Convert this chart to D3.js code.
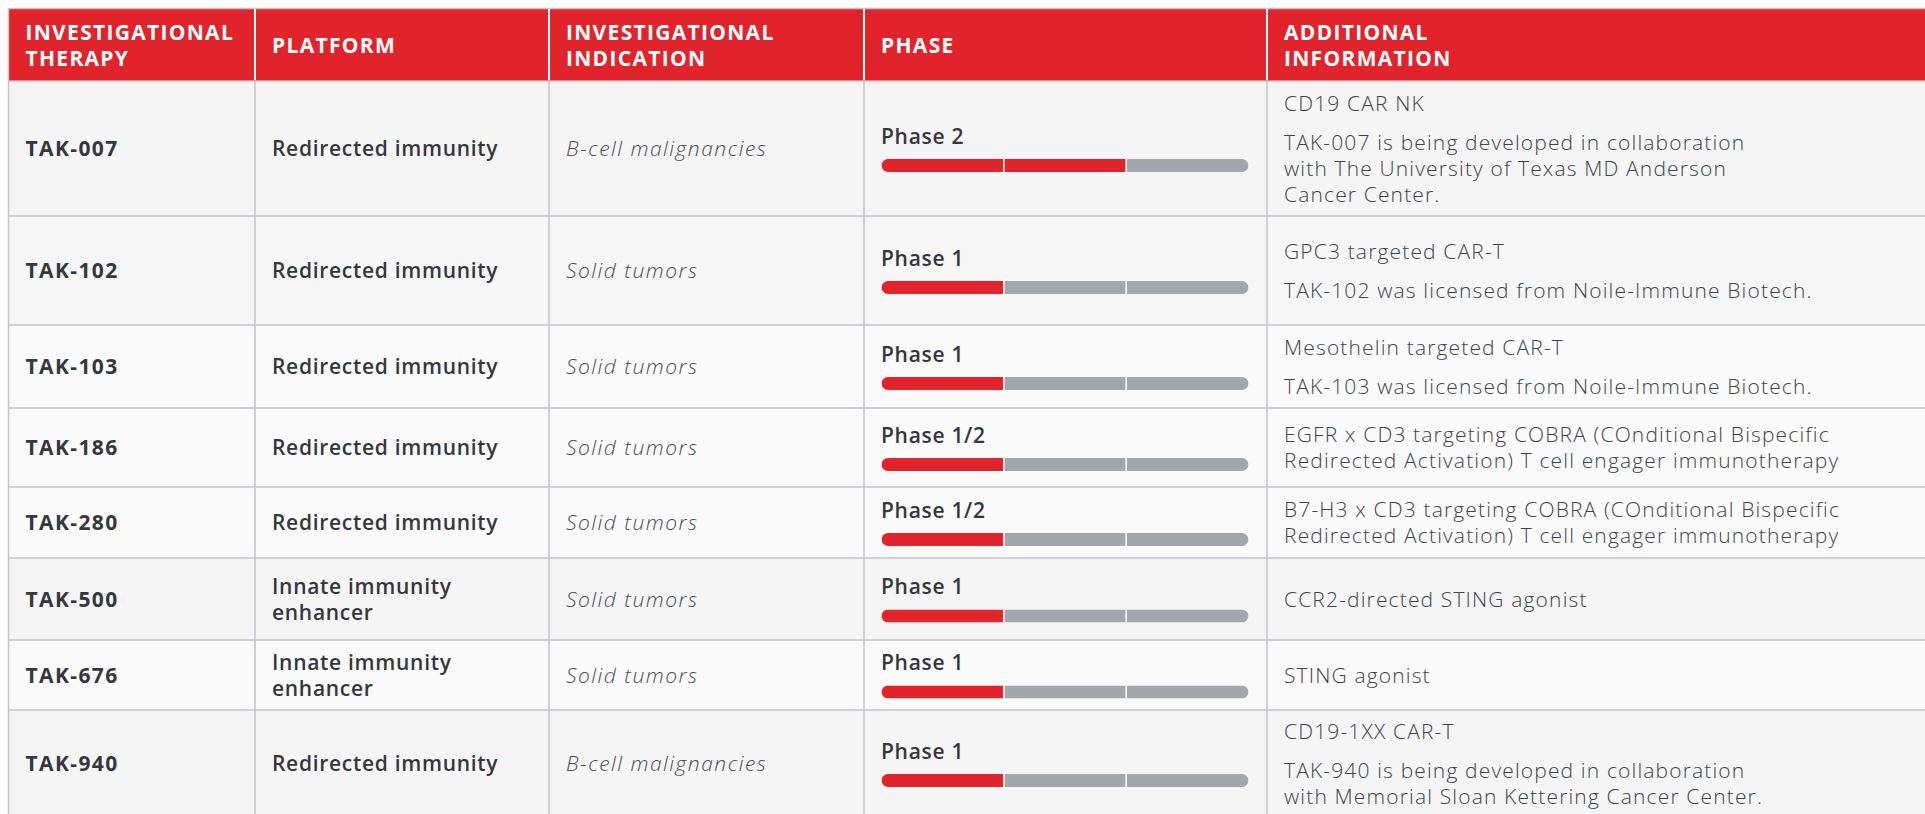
<!DOCTYPE html>
<meta charset="utf-8">
<style>
  body {
    margin: 0;
    background: #fff;
  }
  svg { display: block; }

  text { font-family: "Open Sans", "Noto Sans", sans-serif; }

  .head text {
    fill: #fff;
    font-weight: 700;
    font-size: 21px;
    letter-spacing: 1.3px;
  }
  .therapy {
    fill: #35373e;
    font-weight: 700;
    font-size: 21px;
    letter-spacing: 1.4px;
  }
  .platform, .phase-label {
    fill: #35373e;
    font-weight: 600;
    font-size: 21px;
    letter-spacing: 0.7px;
  }
  .indication {
    fill: #4a4c52;
    font-weight: 300;
    font-style: italic;
    font-size: 21px;
    letter-spacing: 1.5px;
  }
  .info {
    fill: #404248;
    font-weight: 300;
    font-size: 21px;
    letter-spacing: 1.15px;
  }
</style>
<body>
<script src="https://cdn.jsdelivr.net/npm/d3@7"></script>
<script>

// ---- table content ----
var columnTitles = [
    ["INVESTIGATIONAL", "THERAPY"],
    ["PLATFORM"],
    ["INVESTIGATIONAL", "INDICATION"],
    ["PHASE"],
    ["ADDITIONAL", "INFORMATION"]
];

var therapies = ["TAK-007", "TAK-102", "TAK-103", "TAK-186", "TAK-280", "TAK-500", "TAK-676", "TAK-940"];

var platforms = [
    ["Redirected immunity"],
    ["Redirected immunity"],
    ["Redirected immunity"],
    ["Redirected immunity"],
    ["Redirected immunity"],
    ["Innate immunity", "enhancer"],
    ["Innate immunity", "enhancer"],
    ["Redirected immunity"]
];

var indications = ["B-cell malignancies", "Solid tumors", "Solid tumors", "Solid tumors",
                   "Solid tumors", "Solid tumors", "Solid tumors", "B-cell malignancies"];

var phaseLabels = ["Phase 2", "Phase 1", "Phase 1", "Phase 1/2", "Phase 1/2", "Phase 1", "Phase 1", "Phase 1"];
var phaseReached = [2, 1, 1, 1, 1, 1, 1, 1];
var phaseSteps = 3;

// paragraphs, each one a list of lines
var additionalInfo = [
    [["CD19 CAR NK"],
     ["TAK-007 is being developed in collaboration", "with The University of Texas MD Anderson", "Cancer Center."]],
    [["GPC3 targeted CAR-T"],
     ["TAK-102 was licensed from Noile-Immune Biotech."]],
    [["Mesothelin targeted CAR-T"],
     ["TAK-103 was licensed from Noile-Immune Biotech."]],
    [["EGFR x CD3 targeting COBRA (COnditional Bispecific", "Redirected Activation) T cell engager immunotherapy"]],
    [["B7-H3 x CD3 targeting COBRA (COnditional Bispecific", "Redirected Activation) T cell engager immunotherapy"]],
    [["CCR2-directed STING agonist"]],
    [["STING agonist"]],
    [["CD19-1XX CAR-T"],
     ["TAK-940 is being developed in collaboration", "with Memorial Sloan Kettering Cancer Center."]]
];

// ---- layout ----
var width = 1925, height = 814;
var tableTop = 9, headBottom = 81;
var columnEdges = [8.5, 255, 549, 864, 1267, width];
var rowHeights = [135, 109, 83, 79, 71, 82, 70, 107];
var rowFills = ["#f5f5f5", "#f6f6f6", "#fafafa", "#fafafa", "#fafafa", "#f5f5f5", "#fafafa", "#f5f5f5"];
var padLeft = 17;
var lineStep = 26, paraStep = 39;
var barWidth = 367, barHeight = 13;

var red = "#e1232b", grey = "#a3a6ae", rule = "#c3c5cb";

var rows = therapies.map(function(t, i) {
    return {
        therapy: t,
        platform: platforms[i],
        indication: indications[i],
        phase: phaseLabels[i],
        reached: phaseReached[i],
        info: additionalInfo[i],
        index: i
    };
});

var rowTops = [headBottom];
rowHeights.forEach(function(h, i) { rowTops.push(rowTops[i] + h); });

var colX = d3.scaleOrdinal().domain(d3.range(5)).range(columnEdges.slice(0, 5));
var rowY = d3.scaleOrdinal().domain(d3.range(rows.length)).range(rowTops.slice(0, rows.length));
var barX = d3.scaleLinear().domain([0, phaseSteps]).range([0, barWidth]);

function rowMid(i) { return rowY(i) + rowHeights[i] / 2; }

var svg = d3.select("body").append("svg")
    .attr("width", width).attr("height", height);

svg.append("defs").append("clipPath")
    .attr("id", "barClip")
  .append("rect")
    .attr("width", barWidth).attr("height", barHeight)
    .attr("rx", barHeight / 2).attr("ry", barHeight / 2);

// row backgrounds
svg.append("g").selectAll("rect")
    .data(rows).enter().append("rect")
    .attr("x", columnEdges[0]).attr("y", function(d) { return rowY(d.index); })
    .attr("width", width - columnEdges[0])
    .attr("height", function(d) { return rowHeights[d.index]; })
    .attr("fill", function(d) { return rowFills[d.index]; });

// header band
var head = svg.append("g").attr("class", "head");
head.append("rect")
    .attr("x", columnEdges[0]).attr("y", tableTop)
    .attr("width", width - columnEdges[0]).attr("height", headBottom - tableTop)
    .attr("fill", red);

// grid
var grid = svg.append("g").attr("fill", "none");
grid.append("line")
    .attr("x1", columnEdges[0]).attr("x2", width)
    .attr("y1", tableTop - 0.5).attr("y2", tableTop - 0.5)
    .attr("stroke", rule).attr("stroke-width", 1.5);
grid.selectAll(".hline")
    .data(rowTops).enter().append("line")
    .attr("x1", columnEdges[0]).attr("x2", width)
    .attr("y1", function(d) { return d; }).attr("y2", function(d) { return d; })
    .attr("stroke", rule).attr("stroke-width", 1.5);
grid.selectAll(".vbody")
    .data(d3.range(5)).enter().append("line")
    .attr("x1", colX).attr("x2", colX)
    .attr("y1", headBottom).attr("y2", height)
    .attr("stroke", rule).attr("stroke-width", 1.5);
grid.selectAll(".vhead")
    .data(d3.range(1, 5)).enter().append("line")
    .attr("x1", colX).attr("x2", colX)
    .attr("y1", tableTop).attr("y2", headBottom - 1)
    .attr("stroke", "#fff").attr("stroke-width", 2);
grid.append("line")
    .attr("x1", columnEdges[0]).attr("x2", columnEdges[0])
    .attr("y1", tableTop - 1).attr("y2", headBottom)
    .attr("stroke", rule).attr("stroke-width", 1.5);

// header titles
var headMid = (tableTop + headBottom) / 2;
head.selectAll("text")
    .data(columnTitles).enter().append("text")
    .attr("x", function(d, i) { return colX(i) + padLeft; })
    .attr("y", function(d) { return headMid - (d.length - 1) * 13; })
    .selectAll("tspan")
    .data(function(d, i) { return d.map(function(s) { return { s: s, x: colX(i) + padLeft }; }); })
    .enter().append("tspan")
    .attr("x", function(d) { return d.x; })
    .attr("dy", function(d, j) { return j === 0 ? "0.36em" : 26; })
    .text(function(d) { return d.s; });

// body cells
var row = svg.append("g").selectAll("g")
    .data(rows).enter().append("g");

row.append("text")
    .attr("class", "therapy")
    .attr("x", colX(0) + padLeft)
    .attr("y", function(d) { return rowMid(d.index); })
    .attr("dy", "0.36em")
    .text(function(d) { return d.therapy; });

row.append("text")
    .attr("class", "platform")
    .attr("y", function(d) { return rowMid(d.index) - (d.platform.length - 1) * lineStep / 2; })
    .selectAll("tspan")
    .data(function(d) { return d.platform; })
    .enter().append("tspan")
    .attr("x", colX(1) + padLeft)
    .attr("dy", function(d, j) { return j === 0 ? "0.36em" : lineStep; })
    .text(function(d) { return d; });

row.append("text")
    .attr("class", "indication")
    .attr("x", colX(2) + padLeft)
    .attr("y", function(d) { return rowMid(d.index); })
    .attr("dy", "0.36em")
    .text(function(d) { return d.indication; });

row.append("text")
    .attr("class", "phase-label")
    .attr("x", colX(3) + padLeft)
    .attr("y", function(d) { return rowMid(d.index) - 12.5; })
    .attr("dy", "0.36em")
    .text(function(d) { return d.phase; });

var bar = row.append("g")
    .attr("transform", function(d) {
        return "translate(" + (colX(3) + padLeft + 0.5) + "," + (rowMid(d.index) + 10.5) + ")";
    })
    .attr("clip-path", "url(#barClip)");

bar.selectAll("rect")
    .data(function(d) { return d3.range(phaseSteps).map(function(k) { return { k: k, on: k < d.reached }; }); })
    .enter().append("rect")
    .attr("x", function(d) { return barX(d.k); })
    .attr("width", function(d) { return barX(d.k + 1) - barX(d.k); })
    .attr("height", barHeight)
    .attr("fill", function(d) { return d.on ? red : grey; });

bar.selectAll("line")
    .data(d3.range(1, phaseSteps)).enter().append("line")
    .attr("x1", barX).attr("x2", barX)
    .attr("y1", 0).attr("y2", barHeight)
    .attr("stroke", "#fff").attr("stroke-width", 1.5);

// additional information: paragraphs of lines, centred on the row
row.append("text")
    .attr("class", "info")
    .each(function(d) {
        var lines = [], y = 0;
        d.info.forEach(function(para, p) {
            para.forEach(function(s, j) {
                if (lines.length) y += (j === 0 ? paraStep : lineStep);
                lines.push({ s: s, y: y });
            });
        });
        var top = rowMid(d.index) - y / 2;
        d3.select(this).selectAll("tspan")
            .data(lines).enter().append("tspan")
            .attr("x", colX(4) + padLeft)
            .attr("y", function(l) { return top + l.y; })
            .attr("dy", "0.36em")
            .text(function(l) { return l.s; });
    });

</script>
</body>
